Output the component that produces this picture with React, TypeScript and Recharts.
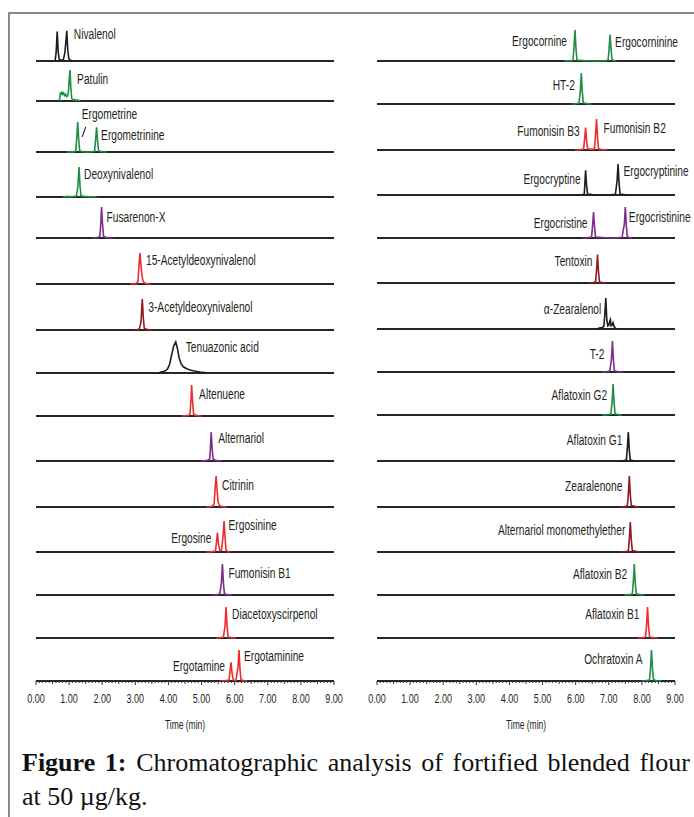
import React from "react";
import { LineChart, Line, XAxis, YAxis, ReferenceDot } from "recharts";

type Pt = [number, number];

// [time (min), relative intensity %] for each extracted-ion trace
const nivalenol: Pt[] = [[0.55, 0], [0.58, 2], [0.61, 30], [0.64, 95], [0.67, 30], [0.7, 6], [0.74, 3], [0.78, 2], [0.83, 6], [0.87, 25], [0.9, 60], [0.93, 97], [0.96, 35], [0.99, 8], [1.03, 3], [1.07, 1], [1.1, 0]];
const patulin: Pt[] = [[0.7, 0], [0.72, 12], [0.74, 28], [0.76, 20], [0.78, 30], [0.8, 22], [0.83, 26], [0.86, 18], [0.89, 22], [0.92, 14], [0.95, 16], [0.98, 30], [1.01, 80], [1.03, 100], [1.05, 45], [1.08, 8], [1.12, 3], [1.16, 5], [1.2, 2], [1.25, 4], [1.3, 1], [1.34, 0]];
const ergometrine: Pt[] = [[0.93, 0], [1.05, 1], [1.15, 0], [1.2, 3], [1.23, 45], [1.26, 97], [1.29, 40], [1.32, 4], [1.4, 1], [1.55, 0], [1.7, 1], [1.77, 3], [1.8, 40], [1.83, 80], [1.86, 35], [1.89, 4], [2.0, 1], [2.14, 0]];
const deoxynivalenol: Pt[] = [[0.82, 0], [0.95, 2], [1.05, 1], [1.15, 2], [1.22, 3], [1.26, 30], [1.3, 97], [1.33, 35], [1.36, 4], [1.45, 2], [1.6, 1], [1.75, 1], [1.83, 0]];
const fusarenonX: Pt[] = [[1.71, 0], [1.8, 1], [1.88, 2], [1.93, 6], [1.96, 50], [1.98, 100], [2.01, 45], [2.04, 6], [2.1, 2], [2.2, 1], [2.32, 0]];
const acetylDon15: Pt[] = [[2.86, 0], [2.95, 1], [3.03, 2], [3.08, 8], [3.11, 60], [3.14, 100], [3.17, 60], [3.2, 30], [3.23, 10], [3.28, 3], [3.35, 1], [3.47, 0]];
const acetylDon3: Pt[] = [[2.94, 0], [3.05, 1], [3.12, 3], [3.17, 25], [3.21, 100], [3.24, 40], [3.27, 6], [3.33, 2], [3.42, 1], [3.53, 0]];
const tenuazonicAcid: Pt[] = [[3.7, 0], [3.78, 3], [3.85, 5], [3.92, 8], [3.98, 14], [4.04, 30], [4.1, 60], [4.16, 88], [4.22, 100], [4.27, 80], [4.32, 50], [4.38, 30], [4.45, 20], [4.55, 14], [4.65, 10], [4.75, 7], [4.85, 5], [4.95, 3], [5.05, 2], [5.17, 0]];
const altenuene: Pt[] = [[4.4, 0], [4.5, 1], [4.6, 2], [4.65, 6], [4.68, 50], [4.7, 100], [4.73, 45], [4.76, 6], [4.82, 2], [4.9, 1], [5.0, 0]];
const alternariol: Pt[] = [[4.98, 0], [5.1, 1], [5.2, 3], [5.25, 8], [5.27, 45], [5.29, 93], [5.32, 40], [5.35, 6], [5.42, 2], [5.5, 1], [5.6, 0]];
const citrinin: Pt[] = [[5.14, 0], [5.25, 1], [5.33, 3], [5.38, 10], [5.41, 60], [5.44, 100], [5.47, 55], [5.5, 15], [5.55, 4], [5.65, 1], [5.76, 0]];
const ergosine: Pt[] = [[5.14, 0], [5.3, 1], [5.42, 3], [5.45, 30], [5.48, 63], [5.51, 25], [5.55, 4], [5.6, 6], [5.65, 50], [5.68, 100], [5.71, 45], [5.74, 6], [5.8, 1], [5.86, 0]];
const fumonisinB1: Pt[] = [[5.33, 0], [5.45, 1], [5.55, 3], [5.6, 40], [5.63, 100], [5.66, 40], [5.69, 4], [5.78, 1], [5.93, 0]];
const diacetoxyscirpenol: Pt[] = [[5.44, 0], [5.55, 1], [5.66, 3], [5.71, 40], [5.74, 100], [5.77, 40], [5.8, 4], [5.9, 1], [6.04, 0]];
const ergotamine: Pt[] = [[5.56, 0], [5.7, 1], [5.83, 3], [5.86, 30], [5.89, 60], [5.92, 25], [5.96, 3], [6.04, 2], [6.1, 45], [6.13, 100], [6.16, 40], [6.19, 4], [6.28, 1], [6.38, 0]];

const ergocornine: Pt[] = [[5.66, 0], [5.8, 1], [5.92, 2], [5.95, 45], [5.98, 100], [6.01, 40], [6.04, 3], [6.3, 1], [6.6, 0], [6.9, 1], [6.98, 3], [7.01, 40], [7.04, 85], [7.07, 35], [7.1, 3], [7.23, 0]];
const ht2: Pt[] = [[5.88, 0], [6.0, 1], [6.1, 3], [6.14, 40], [6.17, 100], [6.2, 40], [6.23, 4], [6.35, 1], [6.48, 0]];
const fumonisinB3B2: Pt[] = [[5.98, 0], [6.12, 1], [6.24, 3], [6.27, 35], [6.3, 72], [6.33, 30], [6.36, 4], [6.5, 2], [6.57, 4], [6.6, 50], [6.63, 100], [6.66, 40], [6.69, 4], [6.8, 1], [6.95, 0]];
const ergocryptine: Pt[] = [[6.0, 0], [6.2, 1], [6.26, 3], [6.28, 40], [6.3, 80], [6.33, 30], [6.36, 3], [6.6, 0], [7.0, 0], [7.2, 2], [7.25, 45], [7.28, 100], [7.31, 40], [7.34, 3], [7.55, 0]];
const ergocristine: Pt[] = [[6.2, 0], [6.35, 1], [6.48, 3], [6.51, 40], [6.54, 84], [6.57, 35], [6.6, 3], [6.9, 1], [7.2, 0], [7.4, 2], [7.47, 45], [7.5, 100], [7.53, 40], [7.56, 3], [7.7, 0]];
const tentoxin: Pt[] = [[6.38, 0], [6.5, 1], [6.6, 3], [6.63, 40], [6.66, 92], [6.69, 35], [6.72, 3], [6.82, 1], [6.93, 0]];
const alphaZearalenol: Pt[] = [[6.63, 0], [6.72, 3], [6.8, 5], [6.85, 8], [6.88, 45], [6.91, 100], [6.94, 30], [6.97, 10], [7.0, 12], [7.03, 25], [7.05, 30], [7.07, 10], [7.1, 12], [7.13, 20], [7.16, 8], [7.2, 3], [7.24, 0]];
const t2: Pt[] = [[6.8, 0], [6.92, 1], [7.03, 3], [7.08, 40], [7.11, 100], [7.14, 40], [7.17, 4], [7.28, 1], [7.42, 0]];
const aflatoxinG2: Pt[] = [[6.8, 0], [6.95, 1], [7.06, 3], [7.1, 40], [7.13, 100], [7.16, 40], [7.19, 4], [7.3, 1], [7.4, 0]];
const aflatoxinG1: Pt[] = [[7.29, 0], [7.42, 1], [7.53, 3], [7.56, 40], [7.59, 93], [7.62, 35], [7.65, 3], [7.75, 1], [7.88, 0]];
const zearalenone: Pt[] = [[7.32, 0], [7.45, 1], [7.56, 3], [7.59, 40], [7.62, 100], [7.65, 40], [7.68, 5], [7.78, 2], [7.92, 0]];
const alternariolMe: Pt[] = [[7.35, 0], [7.48, 1], [7.59, 3], [7.62, 40], [7.65, 97], [7.68, 40], [7.71, 5], [7.82, 2], [7.95, 0]];
const aflatoxinB2: Pt[] = [[7.47, 0], [7.6, 1], [7.71, 3], [7.74, 40], [7.77, 100], [7.8, 40], [7.83, 4], [7.95, 1], [8.08, 0]];
const aflatoxinB1: Pt[] = [[7.87, 0], [8.0, 1], [8.11, 3], [8.14, 40], [8.17, 100], [8.2, 40], [8.23, 4], [8.35, 1], [8.48, 0]];
const ochratoxinA: Pt[] = [[7.99, 0], [8.1, 1], [8.23, 3], [8.26, 40], [8.29, 100], [8.32, 40], [8.35, 4], [8.45, 1], [8.6, 0]];

const TIME_DOMAIN: [number, number] = [0, 9];
const TICK_LABELS = ["0.00", "1.00", "2.00", "3.00", "4.00", "5.00", "6.00", "7.00", "8.00", "9.00"];
const TIME_TICKS = Array.from({ length: 91 }, (_, i) => i / 10);
const AXIS_TITLE = "Time (min)";
const BASELINE = [{ t: 0, i: 0 }, { t: 9, i: 0 }];

const BLACK = "#1c1c1c";
const GREEN = "#1f8f45";
const RED = "#ef2b2d";
const MAROON = "#8e1b1f";
const PURPLE = "#7f2c8f";
const INK = "#231f20";

// condensed look: Arial-metric face squeezed horizontally
const SANS = "'Liberation Sans', Arial, sans-serif";

interface PeakLabel {
  name: string;
  t: number;
  dx: number;
  dy: number;
  slash?: boolean;
}
interface Row {
  trace: Pt[];
  color: string;
  labels: PeakLabel[];
}

const leftRows: Row[] = [
  { trace: nivalenol, color: BLACK, labels: [{ name: "Nivalenol", t: 0.93, dx: 7, dy: 8 }] },
  { trace: patulin, color: GREEN, labels: [{ name: "Patulin", t: 1.03, dx: 7, dy: 14 }] },
  {
    trace: ergometrine,
    color: GREEN,
    labels: [
      { name: "Ergometrine", t: 1.26, dx: 4, dy: -3, slash: true },
      { name: "Ergometrinine", t: 1.83, dx: 4.5, dy: 13 },
    ],
  },
  { trace: deoxynivalenol, color: GREEN, labels: [{ name: "Deoxynivalenol", t: 1.3, dx: 5, dy: 12 }] },
  { trace: fusarenonX, color: PURPLE, labels: [{ name: "Fusarenon-X", t: 1.98, dx: 5, dy: 15 }] },
  { trace: acetylDon15, color: RED, labels: [{ name: "15-Acetyldeoxynivalenol", t: 3.14, dx: 6, dy: 12 }] },
  { trace: acetylDon3, color: MAROON, labels: [{ name: "3-Acetyldeoxynivalenol", t: 3.21, dx: 6, dy: 13 }] },
  { trace: tenuazonicAcid, color: BLACK, labels: [{ name: "Tenuazonic acid", t: 4.22, dx: 10, dy: 10 }] },
  { trace: altenuene, color: RED, labels: [{ name: "Altenuene", t: 4.7, dx: 7.5, dy: 14 }] },
  { trace: alternariol, color: PURPLE, labels: [{ name: "Alternariol", t: 5.29, dx: 7, dy: 11 }] },
  { trace: citrinin, color: RED, labels: [{ name: "Citrinin", t: 5.44, dx: 6, dy: 14 }] },
  {
    trace: ergosine,
    color: RED,
    labels: [
      { name: "Ergosine", t: 5.48, dx: -6, dy: 11 },
      { name: "Ergosinine", t: 5.68, dx: 4.5, dy: 9 },
    ],
  },
  { trace: fumonisinB1, color: PURPLE, labels: [{ name: "Fumonisin B1", t: 5.63, dx: 6, dy: 14 }] },
  { trace: diacetoxyscirpenol, color: RED, labels: [{ name: "Diacetoxyscirpenol", t: 5.74, dx: 6, dy: 12 }] },
  {
    trace: ergotamine,
    color: RED,
    labels: [
      { name: "Ergotamine", t: 5.89, dx: -6, dy: 9 },
      { name: "Ergotaminine", t: 6.13, dx: 5, dy: 11 },
    ],
  },
];

const rightRows: Row[] = [
  {
    trace: ergocornine,
    color: GREEN,
    labels: [
      { name: "Ergocornine", t: 5.98, dx: -8, dy: 16 },
      { name: "Ergocorninine", t: 7.04, dx: 5, dy: 12 },
    ],
  },
  { trace: ht2, color: GREEN, labels: [{ name: "HT-2", t: 6.17, dx: -6.5, dy: 17 }] },
  {
    trace: fumonisinB3B2,
    color: RED,
    labels: [
      { name: "Fumonisin B3", t: 6.3, dx: -6, dy: 8 },
      { name: "Fumonisin B2", t: 6.63, dx: 7, dy: 14 },
    ],
  },
  {
    trace: ergocryptine,
    color: BLACK,
    labels: [
      { name: "Ergocryptine", t: 6.3, dx: -5, dy: 14 },
      { name: "Ergocryptinine", t: 7.28, dx: 5.5, dy: 12 },
    ],
  },
  {
    trace: ergocristine,
    color: PURPLE,
    labels: [
      { name: "Ergocristine", t: 6.54, dx: -6, dy: 16 },
      { name: "Ergocristinine", t: 7.5, dx: 3.5, dy: 15 },
    ],
  },
  { trace: tentoxin, color: MAROON, labels: [{ name: "Tentoxin", t: 6.66, dx: -5, dy: 12 }] },
  { trace: alphaZearalenol, color: BLACK, labels: [{ name: "α-Zearalenol", t: 6.91, dx: -4.5, dy: 16 }] },
  { trace: t2, color: PURPLE, labels: [{ name: "T-2", t: 7.11, dx: -8, dy: 18 }] },
  { trace: aflatoxinG2, color: GREEN, labels: [{ name: "Aflatoxin G2", t: 7.13, dx: -6, dy: 16 }] },
  { trace: aflatoxinG1, color: BLACK, labels: [{ name: "Aflatoxin G1", t: 7.59, dx: -6, dy: 13 }] },
  { trace: zearalenone, color: MAROON, labels: [{ name: "Zearalenone", t: 7.62, dx: -7, dy: 15 }] },
  { trace: alternariolMe, color: MAROON, labels: [{ name: "Alternariol monomethylether", t: 7.65, dx: -5, dy: 13 }] },
  { trace: aflatoxinB2, color: GREEN, labels: [{ name: "Aflatoxin B2", t: 7.77, dx: -7, dy: 15 }] },
  { trace: aflatoxinB1, color: RED, labels: [{ name: "Aflatoxin B1", t: 8.17, dx: -8, dy: 12 }] },
  { trace: ochratoxinA, color: GREEN, labels: [{ name: "Ochratoxin A", t: 8.29, dx: -9, dy: 14 }] },
];

// layout (px)
const PLOT_W = 298;
const PLOT_H = 31;
const M_TOP = 18;
const M_SIDE = 40;
const AXIS_H = 52;
const LEFT_X = 36;
const RIGHT_X = 377;
const LEFT_BASE = [61, 101, 152, 197, 238, 284, 330, 373, 416, 461, 507, 552, 595, 638, 681];
const RIGHT_BASE = [61, 104, 150, 195, 238, 283, 329, 372, 415, 461, 507, 552, 595, 638, 681];

function NarrowText({
  x,
  y,
  size,
  squeeze,
  anchor,
  children,
}: {
  x: number;
  y: number;
  size: number;
  squeeze: number;
  anchor: "start" | "middle" | "end";
  children: React.ReactNode;
}) {
  return (
    <text
      transform={`translate(${x},${y}) scale(${squeeze},1)`}
      textAnchor={anchor}
      fontSize={size}
      fontFamily={SANS}
      fill={INK}
    >
      {children}
    </text>
  );
}

const TimeTick = (props: any) => {
  const { x, y, payload } = props;
  const step = Math.round(payload.value * 10);
  const major = step % 10 === 0;
  const len = major ? 4 : step % 5 === 0 ? 3 : 2;
  return (
    <g>
      <line x1={x} x2={x} y1={y} y2={y + len} stroke="#333" strokeWidth={1} />
      {major && (
        <NarrowText x={x} y={y + 22} size={12.5} squeeze={0.72} anchor="middle">
          {TICK_LABELS[step / 10]}
        </NarrowText>
      )}
      {step === 45 && (
        <NarrowText x={x} y={y + 48} size={12.5} squeeze={0.68} anchor="middle">
          {AXIS_TITLE}
        </NarrowText>
      )}
    </g>
  );
};

function Chromatogram({ row, x, baseY, last }: { row: Row; x: number; baseY: number; last: boolean }) {
  const data = row.trace.map(([t, i]) => ({ t, i }));
  const axisH = last ? AXIS_H : 1;
  return (
    <div style={{ position: "absolute", left: x - M_SIDE, top: baseY - PLOT_H - M_TOP }}>
      <LineChart
        width={PLOT_W + 2 * M_SIDE}
        height={M_TOP + PLOT_H + axisH}
        margin={{ top: M_TOP, right: M_SIDE, bottom: 0, left: M_SIDE }}
      >
        <XAxis
          type="number"
          dataKey="t"
          domain={TIME_DOMAIN}
          ticks={last ? TIME_TICKS : []}
          interval={0}
          height={axisH}
          axisLine={false}
          tickLine={false}
          tickSize={0}
          tickMargin={0}
          tick={last ? <TimeTick /> : false}
        />
        <YAxis hide type="number" domain={[0, 100]} />
        <Line data={BASELINE} dataKey="i" stroke="#262626" strokeWidth={2} dot={false} isAnimationActive={false} />
        <Line
          data={data}
          dataKey="i"
          type="linear"
          stroke={row.color}
          strokeWidth={1.6}
          dot={false}
          isAnimationActive={false}
        />
        {row.labels.map((lab) => {
          const pt = row.trace.find(([t]) => t === lab.t);
          const h = pt ? pt[1] : 100;
          return (
            <ReferenceDot
              key={lab.name}
              x={lab.t}
              y={h}
              r={0}
              shape={(p: any) => (
                <g>
                  <NarrowText
                    x={p.cx + lab.dx}
                    y={p.cy + lab.dy}
                    size={15}
                    squeeze={0.68}
                    anchor={lab.dx < 0 ? "end" : "start"}
                  >
                    {lab.name}
                  </NarrowText>
                  {lab.slash && (
                    <line x1={p.cx + 4.5} y1={p.cy + 15} x2={p.cx + 8} y2={p.cy + 5} stroke={INK} strokeWidth={1.1} />
                  )}
                </g>
              )}
            />
          );
        })}
      </LineChart>
    </div>
  );
}

export default function App() {
  return (
    <div
      style={{
        position: "absolute",
        left: 0,
        top: 0,
        width: 694,
        height: 817,
        overflow: "hidden",
        background: "#fff",
      }}
    >
      <div style={{ position: "absolute", left: 9, top: 12, width: 700, height: 2, background: "#8a8a8a" }} />
      <div style={{ position: "absolute", left: 8, top: 12, width: 2, height: 820, background: "#8a8a8a" }} />
      {leftRows.map((row, k) => (
        <Chromatogram key={"l" + k} row={row} x={LEFT_X} baseY={LEFT_BASE[k]} last={k === leftRows.length - 1} />
      ))}
      {rightRows.map((row, k) => (
        <Chromatogram key={"r" + k} row={row} x={RIGHT_X} baseY={RIGHT_BASE[k]} last={k === rightRows.length - 1} />
      ))}
      <div
        style={{
          position: "absolute",
          left: 22,
          top: 746,
          width: 668,
          fontFamily: "'Liberation Serif', 'DejaVu Serif', serif",
          fontSize: 26,
          lineHeight: "34px",
          color: "#111",
        }}
      >
        <div style={{ textAlign: "justify", textAlignLast: "justify" }}>
          <b>Figure 1:</b> Chromatographic analysis of fortified blended flour
        </div>
        <div>at 50 µg/kg.</div>
      </div>
    </div>
  );
}
